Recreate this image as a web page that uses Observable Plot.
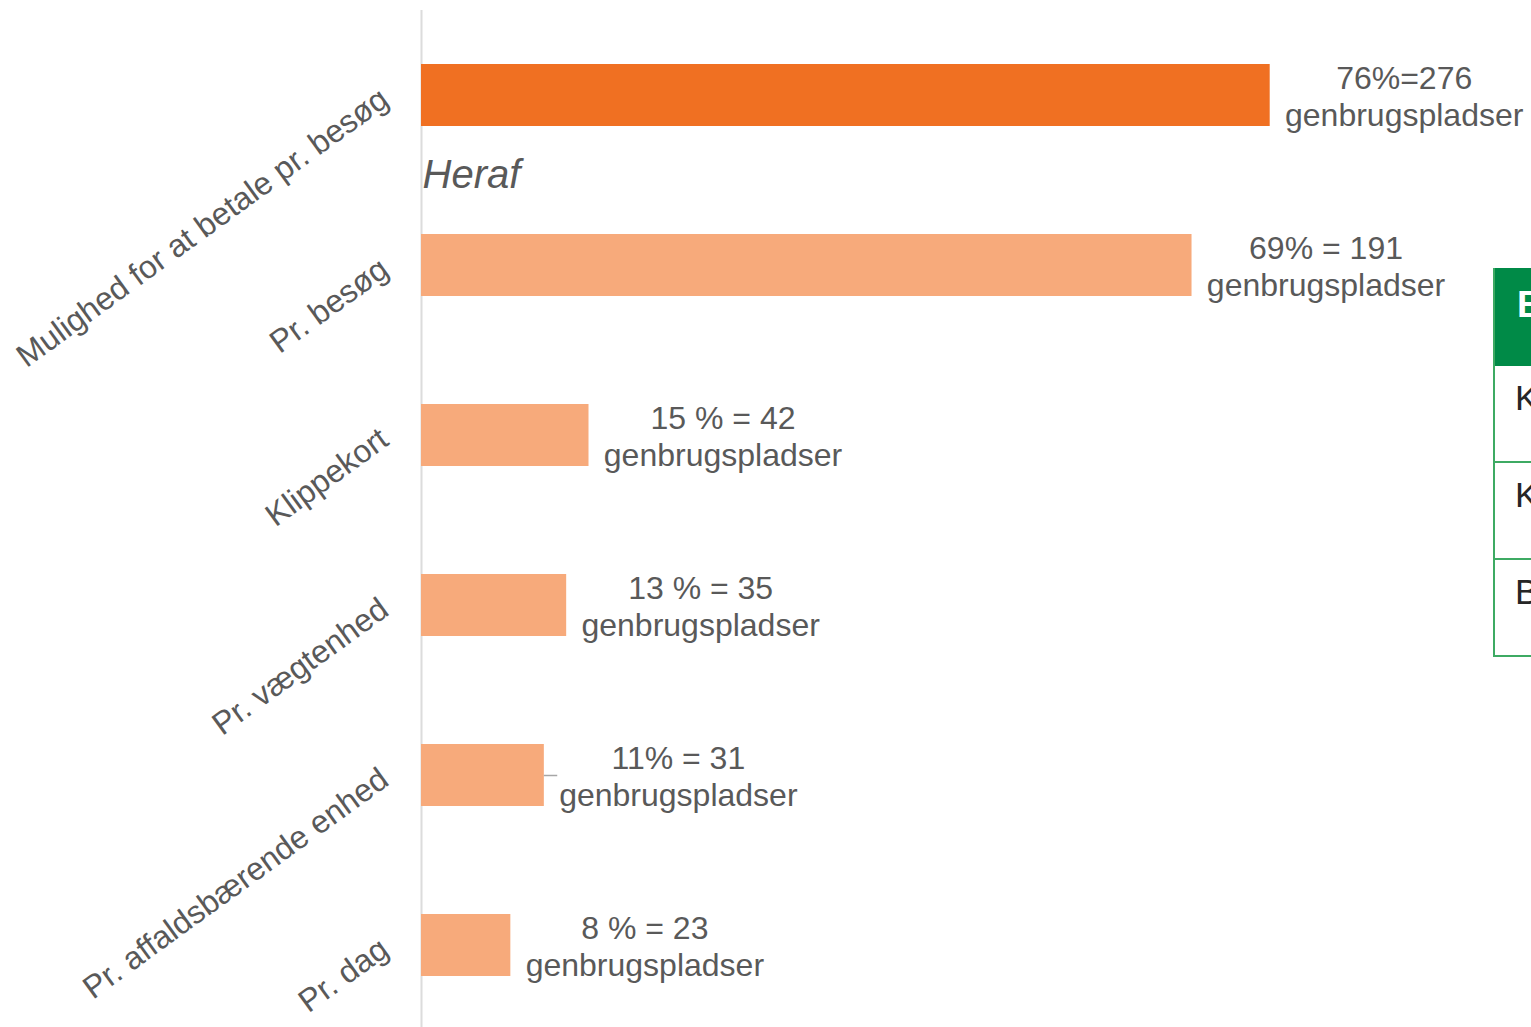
<!DOCTYPE html>
<html>
<head>
<meta charset="utf-8">
<script src="https://cdn.jsdelivr.net/npm/d3@7"></script>
<script src="https://cdn.jsdelivr.net/npm/@observablehq/plot@0.6"></script>
<style>
  html, body { margin: 0; padding: 0; background: #fff; overflow: hidden; }
  body { width: 1531px; height: 1027px; position: relative; font-family: "Liberation Sans", Arial, sans-serif; }
  #chart { position: absolute; left: 0; top: 0; }
  #side { position: absolute; left: 1493px; top: 268px; width: 200px; border-left: 2px solid #3daa63; }
  #side .hd { height: 98px; background: #008a47; color: #fff; font-weight: bold; font-size: 37px; box-sizing: border-box; padding: 16px 0 0 22px; }
  #side .row { height: 97px; border-bottom: 2px solid #3daa63; box-sizing: border-box; color: #262626; font-size: 35px; padding: 12px 0 0 20px; }
</style>
</head>
<body>
<div id="chart"></div>
<div id="side"></div>
<script>
const categories = ["Mulighed for at betale pr. besøg", "Pr. besøg", "Klippekort", "Pr. vægtenhed", "Pr. affaldsbærende enhed", "Pr. dag"];
const percents = [76, 69, 15, 13, 11, 8];
const valueLabels = [
  "76%=276\ngenbrugspladser",
  "69% = 191\ngenbrugspladser",
  "15 % = 42\ngenbrugspladser",
  "13 % = 35\ngenbrugspladser",
  "11% = 31\ngenbrugspladser",
  "8 % = 23\ngenbrugspladser"
];
const groups = ["total", "sub", "sub", "sub", "sub", "sub"];
const leaders = [false, false, false, false, true, false];
const annotation = ["Heraf"];
const sideHeader = ["B"];
const sideRows = ["K", "K", "B"];

const data = categories.map((c, i) => ({category: c, value: percents[i], label: valueLabels[i], group: groups[i], leader: leaders[i]}));

const chart = Plot.plot({
  width: 1531,
  height: 1030,
  marginLeft: 421,
  marginRight: 0,
  marginTop: 10,
  marginBottom: 0,
  style: {fontFamily: "'Liberation Sans', Arial, sans-serif", background: "transparent"},
  x: {domain: [0, 99.4], axis: null},
  y: {domain: categories, paddingInner: 0.635, paddingOuter: 0.3175, axis: null},
  color: {domain: ["total", "sub"], range: ["#f07022", "#f7aa7b"]},
  marks: [
    Plot.ruleX([0], {stroke: "#dcdcdc", strokeWidth: 2}),
    Plot.barX(data, {x: "value", y: "category", fill: "group"}),
    Plot.ruleY(data.filter(d => d.leader), {y: "category", x1: "value", x2: d => d.value + 1.2, stroke: "#a6a6a6", strokeWidth: 1.5}),
    Plot.axisY({tickSize: 0, tickPadding: 37, tickRotate: -36, textAnchor: "end", lineAnchor: "middle", fontSize: 32, fill: "#595959", label: null}),
    Plot.text(data, {x: "value", y: "category", text: "label", textAnchor: "middle", lineAnchor: "middle", dx: 134, fontSize: 32, lineHeight: 1.15, fill: "#595959"}),
    Plot.text(annotation, {frameAnchor: "top-left", text: d => d, textAnchor: "start", lineAnchor: "top", dy: 149, dx: 1, fontSize: 40, fontStyle: "italic", fill: "#595959"})
  ]
});
document.getElementById("chart").appendChild(chart);

const side = document.getElementById("side");
sideHeader.forEach(t => { const d = document.createElement("div"); d.className = "hd"; d.textContent = t; side.appendChild(d); });
sideRows.forEach(t => { const d = document.createElement("div"); d.className = "row"; d.textContent = t; side.appendChild(d); });
</script>
</body>
</html>
